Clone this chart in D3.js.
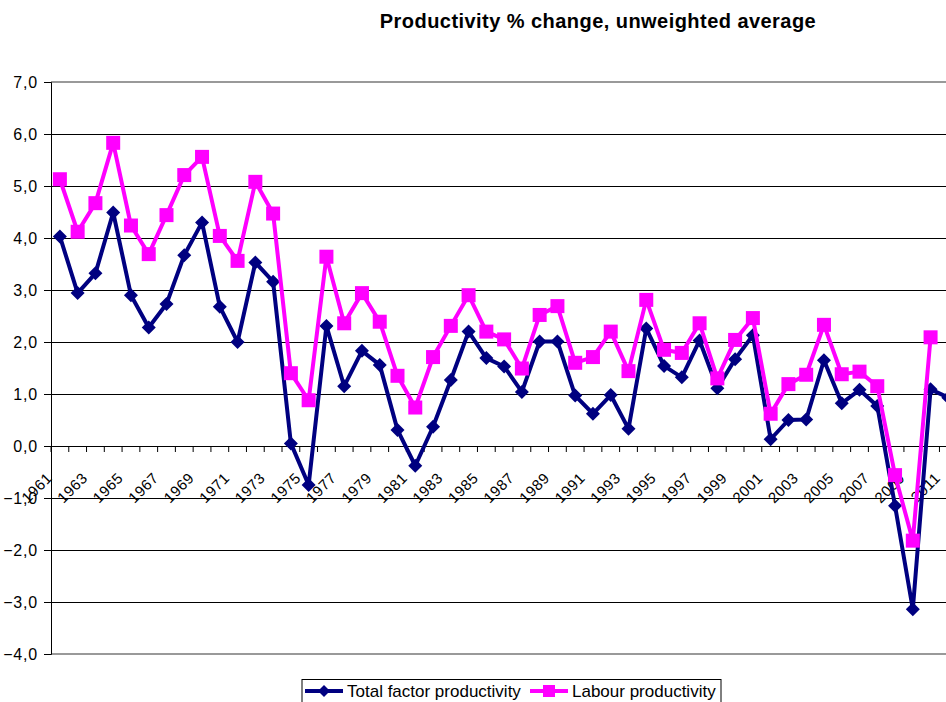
<!DOCTYPE html>
<html>
<head>
<meta charset="utf-8">
<script src="https://cdn.jsdelivr.net/npm/d3@7"></script>
<style>
  body { margin: 0; background: #fff; }
  text { font-family: Arial, "Liberation Sans", sans-serif; }
</style>
</head>
<body>
<svg id="chart" width="946" height="702"></svg>
<script>
// years 1961..2012 (the chart is cut off on the right)
const years = d3.range(1961, 2013);
const yTicks = d3.range(-4, 8);

const tfp = [4.03, 2.94, 3.32, 4.49, 2.90, 2.28, 2.73, 3.67, 4.30, 2.68,
    2.00, 3.53, 3.16, 0.05, -0.75, 2.31, 1.15, 1.83, 1.56, 0.31,
    -0.38, 0.37, 1.27, 2.20, 1.69, 1.53, 1.04, 2.01, 2.01, 0.97,
    0.62, 0.98, 0.33, 2.26, 1.54, 1.32, 2.03, 1.11, 1.67, 2.13,
    0.13, 0.50, 0.51, 1.65, 0.82, 1.08, 0.77, -1.15, -3.14, 1.09,
    0.93];

const labour = [5.13, 4.12, 4.67, 5.83, 4.24, 3.69, 4.44, 5.21, 5.56, 4.04,
    3.56, 5.08, 4.47, 1.40, 0.88, 3.64, 2.36, 2.94, 2.39, 1.35,
    0.74, 1.71, 2.31, 2.90, 2.20, 2.05, 1.49, 2.52, 2.69, 1.60,
    1.71, 2.20, 1.44, 2.81, 1.85, 1.79, 2.36, 1.30, 2.04, 2.46,
    0.62, 1.19, 1.37, 2.33, 1.38, 1.43, 1.15, -0.56, -1.82, 2.09];

const seriesNames = ["Total factor productivity", "Labour productivity"];

const svg = d3.select('#chart');
const plotTop = 82, plotBottom = 654, plotLeft = 51, plotRight = 975;

const x = d3.scaleBand().domain(years).range([plotLeft, plotRight]);
const y = d3.scaleLinear().domain([-4, 7]).range([plotBottom, plotTop]);
const cx = d => x(d) + x.bandwidth() / 2;

// title
svg.append('text')
    .attr('x', 598).attr('y', 28)
    .attr('text-anchor', 'middle')
    .style('font-weight', 'bold').style('font-size', '20px')
    .style('letter-spacing', '0.45px')
    .text("Productivity % change, unweighted average");

// grid lines
svg.append('g').selectAll('line')
    .data(yTicks.filter(v => v > -4 && v < 7))
    .join('line')
    .attr('x1', plotLeft).attr('x2', 946)
    .attr('y1', d => y(d)).attr('y2', d => y(d))
    .attr('stroke', '#000').attr('stroke-width', 1)
    .attr('shape-rendering', 'crispEdges');

// plot border top / bottom
[7, -4].forEach(v => {
    svg.append('line')
        .attr('x1', plotLeft).attr('x2', 946)
        .attr('y1', y(v)).attr('y2', y(v))
        .attr('stroke', '#999').attr('stroke-width', 2);
});

// y axis
let yAxis = svg.append('g')
    .attr('transform', 'translate(' + plotLeft + ',0)')
    .call(d3.axisLeft(y).tickValues(yTicks).tickSize(7).tickPadding(6)
        .tickFormat(d => d3.format('.1f')(d).replace('.', ',')));
yAxis.select('.domain').attr('stroke', '#000');
yAxis.selectAll('text').style('font-size', '16px')
    .style('letter-spacing', '0.8px').attr('fill', '#000');

// x axis on zero line
let xAxis = svg.append('g')
    .attr('transform', 'translate(0,' + y(0) + ')');
xAxis.selectAll('line')
    .data(d3.range(0, years.length + 1))
    .join('line')
    .attr('x1', i => plotLeft + i * x.bandwidth()).attr('x2', i => plotLeft + i * x.bandwidth())
    .attr('y1', 0).attr('y2', 6)
    .attr('stroke', '#000');
xAxis.selectAll('text')
    .data(years.filter(d => (d - 1961) % 2 === 0))
    .join('text')
    .attr('transform', d => 'translate(' + (cx(d) - 7) + ',33) rotate(-45)')
    .attr('text-anchor', 'end')
    .style('font-size', '15px')
    .style('letter-spacing', '0.5px')
    .text(d => d);

// lines
const line = d3.line().x(d => cx(d.year)).y(d => y(d.value));
const tfpData = tfp.map((v, i) => ({ year: years[i], value: v }));
const labourData = labour.map((v, i) => ({ year: years[i], value: v }));

svg.append('path').datum(tfpData)
    .attr('d', line).attr('fill', 'none')
    .attr('stroke', '#000080').attr('stroke-width', 4)
    .attr('stroke-linejoin', 'round');
svg.append('g').selectAll('path')
    .data(tfpData).join('path')
    .attr('transform', d => 'translate(' + cx(d.year) + ',' + y(d.value) + ')')
    .attr('d', 'M0,-7L7,0L0,7L-7,0Z')
    .attr('fill', '#000080');

svg.append('path').datum(labourData)
    .attr('d', line).attr('fill', 'none')
    .attr('stroke', '#FF00FF').attr('stroke-width', 4)
    .attr('stroke-linejoin', 'round');
svg.append('g').selectAll('rect')
    .data(labourData).join('rect')
    .attr('x', d => cx(d.year) - 7).attr('y', d => y(d.value) - 7)
    .attr('width', 14).attr('height', 14)
    .attr('fill', '#FF00FF');

// legend
let legend = svg.append('g');
legend.append('rect')
    .attr('x', 302).attr('y', 679.5).attr('width', 419).attr('height', 40)
    .attr('fill', '#fff').attr('stroke', '#000');
legend.append('line').attr('x1', 305).attr('x2', 343).attr('y1', 691).attr('y2', 691)
    .attr('stroke', '#000080').attr('stroke-width', 4);
legend.append('path').attr('transform', 'translate(324,691)')
    .attr('d', 'M0,-6L6,0L0,6L-6,0Z').attr('fill', '#000080');
legend.append('text').attr('x', 347).attr('y', 697)
    .style('font-size', '17px').text(seriesNames[0]);
legend.append('line').attr('x1', 530).attr('x2', 568).attr('y1', 691).attr('y2', 691)
    .attr('stroke', '#FF00FF').attr('stroke-width', 4);
legend.append('rect').attr('x', 543).attr('y', 685).attr('width', 12).attr('height', 12)
    .attr('fill', '#FF00FF');
legend.append('text').attr('x', 572).attr('y', 697)
    .style('font-size', '17px').text(seriesNames[1]);
</script>
</body>
</html>
